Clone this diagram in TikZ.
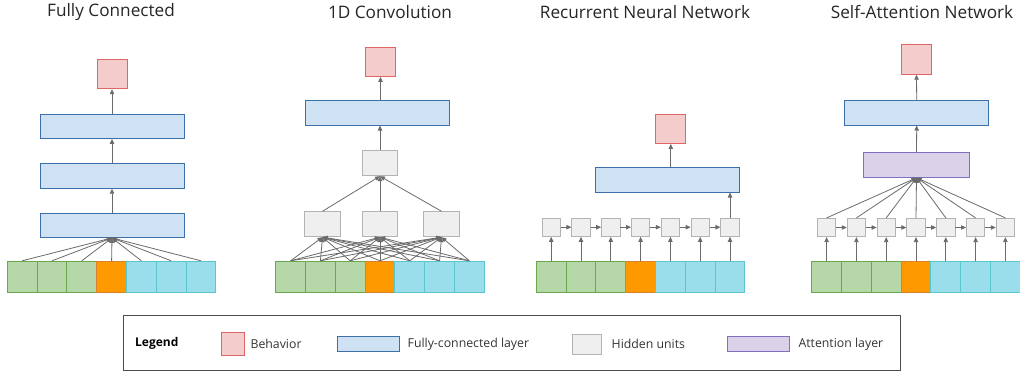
\documentclass[tikz,border=0pt]{standalone}
\usepackage{fontspec}
\setmainfont{Open Sans}
\usetikzlibrary{arrows.meta,positioning}
\definecolor{behfill}{HTML}{F4CCCC}
\definecolor{behline}{HTML}{E06666}
\definecolor{fcfill}{HTML}{CFE2F3}
\definecolor{fcline}{HTML}{3D6FA8}
\definecolor{hidfill}{HTML}{EFEFEF}
\definecolor{hidline}{HTML}{B3B3B3}
\definecolor{attfill}{HTML}{D9D2E9}
\definecolor{attline}{HTML}{8170BF}
\definecolor{gfill}{HTML}{B6D7A8}
\definecolor{gline}{HTML}{6AA84F}
\definecolor{ofill}{HTML}{FF9900}
\definecolor{oline}{HTML}{D9822B}
\definecolor{cfill}{HTML}{9ADEEB}
\definecolor{cline}{HTML}{5CC6CF}
\definecolor{arr}{HTML}{6A6A6A}

\begin{document}
\begin{tikzpicture}[x=1pt, y=-1pt,
  box/.style={inner sep=0pt, line width=0.9pt},
  beh/.style={box, draw=behline, fill=behfill, minimum width=30pt, minimum height=29.5pt},
  fc/.style={box, draw=fcline, fill=fcfill, minimum width=144pt, minimum height=24.5pt},
  hid/.style={box, draw=hidline, fill=hidfill, minimum width=35.5pt, minimum height=25pt},
  hids/.style={hid, minimum width=18.3pt, minimum height=18.3pt},
  att/.style={box, draw=attline, fill=attfill, minimum width=106.5pt, minimum height=25pt},
  cell/.style={box, minimum width=29.8pt, minimum height=30.7pt},
  ing/.style={cell, draw=gline, fill=gfill},
  ino/.style={cell, draw=oline, fill=ofill},
  inc/.style={cell, draw=cline, fill=cfill},
  con/.style={draw=arr, line width=0.8pt, -{Triangle[length=5pt,width=4.4pt]}},
  ttl/.style={font=\fontsize{17.2}{19}\selectfont, text=black!85},
  lg/.style={font=\fontsize{12.3}{14}\selectfont, text=black!80, anchor=west, inner sep=0pt}]

  \newcommand\InRow[2]{% name, left edge
    \foreach \i/\s in {1/ing,2/ing,3/ing,4/ino,5/inc,6/inc,7/inc}
      {\node[\s] (#1\i) at ({#2+(\i-0.5)*29.8},276.6) {};}}

  \useasboundingbox (0,0) rectangle (1020,373);

  %% titles
  \node[ttl] (t1) at (111,12) {Fully Connected};
  \node[ttl] (t2) at (390,12) {1D Convolution};
  \node[ttl] (t3) at (645,12) {Recurrent Neural Network};
  \node[ttl] (t4) at (922,12) {Self-Attention Network};

  %% fully connected
  \InRow{fi}{7.3}
  \node[fc] (fa3) at (112,225.2) {};
  \node[fc] (fa2) at (112,176) {};
  \node[fc] (fa1) at (112,126.2) {};
  \node[beh] (fb) at (112,74) {};
  \foreach \i in {1,...,7} \draw[con] (fi\i.north) -- (fa3.south);
  \draw[con] (fa3.north) -- (fa2.south);
  \draw[con] (fa2.north) -- (fa1.south);
  \draw[con] (fa1.north) -- (fb.south);

  %% 1d convolution
  \InRow{ci}{275.7}
  \node[hid] (ct) at (380,163.2) {};
  \foreach \j/\x in {1/322.5,2/380,3/441.5}{
    \node[hid] (ch\j) at (\x,224.2) {};
    \foreach \i in {1,...,7} \draw[con] (ci\i.north) -- (ch\j.south);
    \draw[con] (ch\j.north) -- (ct.south);
  }
  \node[fc] (cf) at (377.3,112.8) {};
  \node[beh] (cb) at (380.5,61.7) {};
  \draw[con] (ct.north) -- (ct.north |- cf.south);
  \draw[con] (cb.south |- cf.north) -- (cb.south);

  %% recurrent
  \InRow{ri}{536.3}
  \foreach \i in {1,...,7}{
    \node[hids] (rh\i) at ({536.3+(\i-0.5)*29.8},227.2) {};
    \draw[con] (ri\i.north) -- (rh\i.south);
  }
  \foreach \i [remember=\i as \k (initially 1)] in {2,...,7}
    \draw[con] (rh\k.east) -- (rh\i.west);
  \node[fc] (rf) at (667.8,179.8) {};
  \node[beh] (rb) at (670.8,128.7) {};
  \draw[con] (rh7.north) -- (rh7.north |- rf.south);
  \draw[con] (rb.south |- rf.north) -- (rb.south);

  %% self-attention
  \InRow{si}{811.7}
  \node[att] (sa) at (916.5,164.8) {};
  \foreach \i in {1,...,7}{
    \node[hids] (sh\i) at ({811.7+(\i-0.5)*29.8},227.5) {};
    \draw[con] (si\i.north) -- (sh\i.south);
    \draw[con] (sh\i.north) -- (sa.south);
  }
  \foreach \i [remember=\i as \k (initially 1)] in {2,...,7}
    \draw[con] (sh\k.east) -- (sh\i.west);
  \node[fc] (sf) at (916.7,112.8) {};
  \node[beh] (sb) at (916.5,59.5) {};
  \draw[con] (sa.north) -- (sf.south);
  \draw[con] (sf.north) -- (sb.south);

  %% legend
  \node[draw=black!70, line width=0.9pt, minimum width=777pt, minimum height=55pt, inner sep=0pt] (lgd) at (511.5,342.5) {};
  \node[lg, font=\fontsize{12}{14}\selectfont\bfseries, text=black] (lgt) at (135,343) {Legend};
  \node[beh, minimum width=23pt, minimum height=23pt] (lgb) at (233.4,344) {};
  \node[lg, right=5pt of lgb] (lgbt) {Behavior};
  \node[fc, minimum width=62pt, minimum height=15pt] (lgf) at (368,344.2) {};
  \node[lg, right=8pt of lgf] (lgft) {Fully-connected layer};
  \node[hid, minimum width=28.3pt, minimum height=20pt] (lgh) at (586.9,344) {};
  \node[lg, right=10pt of lgh] (lght) {Hidden units};
  \node[att, minimum width=62pt, minimum height=15.7pt] (lga) at (758.9,343.9) {};
  \node[lg, right=8pt of lga] (lgat) {Attention layer};

\end{tikzpicture}
\end{document}
